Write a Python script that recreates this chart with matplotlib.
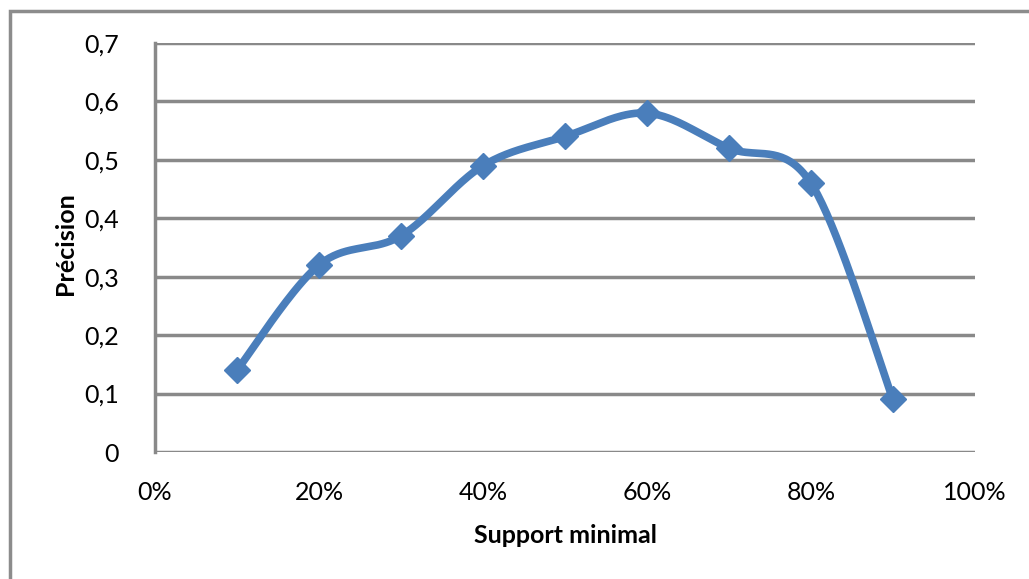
import numpy as np
import matplotlib
matplotlib.use("Agg")
from matplotlib import pyplot as plt
from matplotlib.patches import Rectangle
from matplotlib.ticker import FuncFormatter

support = [0.1, 0.2, 0.3, 0.4, 0.5, 0.6, 0.7, 0.8, 0.9]
precision = [0.14, 0.32, 0.37, 0.49, 0.54, 0.58, 0.52, 0.46, 0.09]
xticks = [0, 0.2, 0.4, 0.6, 0.8, 1.0]
yticks = [0, 0.1, 0.2, 0.3, 0.4, 0.5, 0.6, 0.7]

BLUE = '#4a7ebb'
GRID = '#898989'


def smooth(x, y, n=40):
    # lissage type Excel (Bezier / Catmull-Rom)
    x = np.asarray(x, float)
    y = np.asarray(y, float)
    px = np.concatenate([[x[0]], x, [x[-1]]])
    py = np.concatenate([[y[0]], y, [y[-1]]])
    xs, ys = [], []
    t = np.linspace(0, 1, n)
    for i in range(1, len(px) - 2):
        p0 = np.array([px[i], py[i]])
        p3 = np.array([px[i + 1], py[i + 1]])
        p1 = p0 + (np.array([px[i + 1], py[i + 1]]) - np.array([px[i - 1], py[i - 1]])) / 6
        p2 = p3 - (np.array([px[i + 2], py[i + 2]]) - np.array([px[i], py[i]])) / 6
        b = ((1 - t) ** 3)[:, None] * p0 + (3 * (1 - t) ** 2 * t)[:, None] * p1 \
            + (3 * (1 - t) * t ** 2)[:, None] * p2 + (t ** 3)[:, None] * p3
        xs.extend(b[:, 0])
        ys.extend(b[:, 1])
    return xs, ys


plt.rcParams['font.family'] = ['Lato', 'DejaVu Sans']

fig = plt.figure(figsize=(10.29, 5.79), dpi=100)
W, H = 1029, 579
fig.patches.append(Rectangle((10 / W, -0.1), 1.2, (579 - 11) / H + 0.1,
                             transform=fig.transFigure, fill=False,
                             edgecolor='#8c8c8c', linewidth=2.5))

ax = fig.add_axes([155 / W, 1 - 452 / H, (975 - 155) / W, (452 - 43) / H])
ax.set_xlim(0, 1)
ax.set_ylim(0, 0.7)
ax.set_xticks(xticks)
ax.set_yticks(yticks)
ax.xaxis.set_major_formatter(FuncFormatter(lambda v, p: '{:d}%'.format(int(round(v * 100)))))
ax.yaxis.set_major_formatter(FuncFormatter(lambda v, p: '0' if v == 0 else '{:.1f}'.format(v).replace('.', ',')))
ax.tick_params(length=0, labelsize=18, colors='black')
ax.tick_params(axis='x', pad=21)
ax.tick_params(axis='y', pad=26)
for s in ['top', 'right', 'bottom']:
    ax.spines[s].set_visible(False)
ax.spines['left'].set_color(GRID)
ax.spines['left'].set_linewidth(2.5)
ax.grid(axis='y', color=GRID, linewidth=2.5)
ax.set_axisbelow(True)

sx, sy = smooth(support, precision)
ax.plot(sx, sy, color=BLUE, linewidth=5.5, solid_capstyle='round', zorder=3)
ax.plot(support, precision, linestyle='none', marker='D', markersize=13,
        color=BLUE, zorder=4, clip_on=False)

ax.set_xlabel('Support minimal', fontsize=18, fontweight='bold', labelpad=14)
ax.set_ylabel('Précision', fontsize=18, fontweight='bold')
ax.yaxis.set_label_coords(-0.095, 0.51)

fig.savefig('out.png', dpi=100)
